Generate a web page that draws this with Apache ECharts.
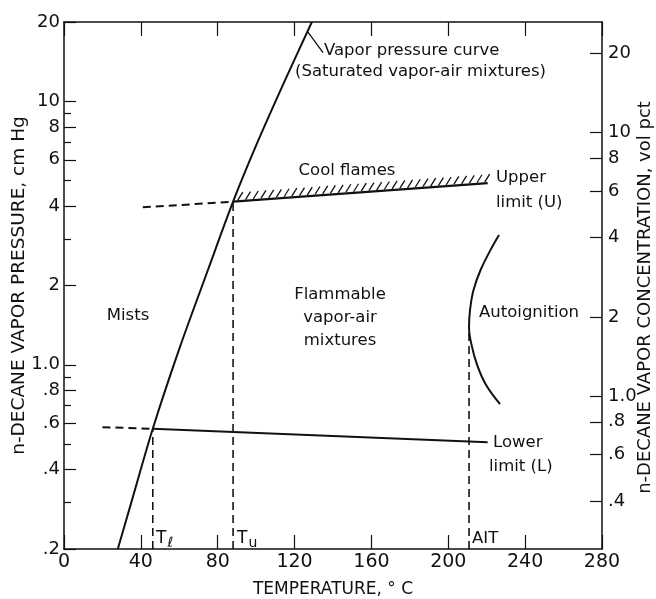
<!DOCTYPE html>
<html>
<head>
<meta charset="utf-8">
<script src="https://cdn.jsdelivr.net/npm/echarts@6/dist/echarts.min.js"></script>
<style>
    html, body { margin: 0; padding: 0; background: #fff; }
    #chart { width: 656px; height: 599px; }
</style>
</head>
<body>
<div id="chart"></div>
<script>
    // temperature (°C) against n-decane vapor pressure (cm Hg)
    var vaporCurve = [[28, 0.2], [35, 0.3], [46.2, 0.572], [60, 1.15], [75, 2.3], [88, 4.16], [100, 6.8], [115, 12], [129, 20]];
    var upperDashed = [[41, 3.96], [88, 4.16]];
    var upperSolid = [[88, 4.16], [220.5, 4.89]];
    var lowerDashed = [[20, 0.58], [46.2, 0.572]];
    var lowerSolid = [[46.2, 0.572], [220.5, 0.508]];
    var tlLine = [[46.2, 0.2], [46.2, 0.572]];
    var tuLine = [[88, 0.2], [88, 4.16]];
    var aitLine = [[210.8, 0.2], [210.8, 1.38]];
    var autoignition = [[226.4, 3.11], [222.0, 2.73], [216.8, 2.29], [213.1, 1.92], [211.3, 1.61], [210.8, 1.39],
        [212.1, 1.19], [215.0, 1.0], [219.6, 0.84], [226.9, 0.71]];
    var pointerLine = [[127, 18.3], [134.8, 15.3]];

    var xMin = 0, xMax = 280, xStep = 40;
    var pMin = 0.2, pMax = 20, atmCmHg = 76;
    var leftTicks = [0.2, 0.4, 0.6, 0.8, 1, 2, 4, 6, 8, 10, 20];
    var leftLabels = ['.2', '.4', '.6', '.8', '1.0', '2', '4', '6', '8', '10', '20'];
    var leftMinor = [0.3, 0.5, 0.7, 0.9, 3, 5, 7, 9];
    var rightTicks = [0.4, 0.6, 0.8, 1, 2, 4, 6, 8, 10, 20];
    var rightLabels = ['.4', '.6', '.8', '1.0', '2', '4', '6', '8', '10', '20'];

    var FONT = 'DejaVu Sans';
    var INK = '#111';

    // the y axes are value axes on log10 of the pressure / concentration
    var lg = Math.log10;
    function toLog(pts) {
        return pts.map(function (p) { return [p[0], lg(p[1])]; });
    }
    function lookup(ticks, labels) {
        return function (v) {
            for (var i = 0; i < ticks.length; i++) {
                if (Math.abs(v - lg(ticks[i])) < 1e-6) return labels[i];
            }
            return '';
        };
    }

    function line(data, dashed, width) {
        return {
            type: 'line',
            data: toLog(data),
            showSymbol: false,
            silent: true,
            lineStyle: { color: INK, width: width || 2, type: dashed ? [8, 5] : 'solid' }
        };
    }

    var chart = echarts.init(document.getElementById('chart'));

    var texts = [
        { x: 324, y: 51, t: 'Vapor pressure curve' },
        { x: 295, y: 72, t: '(Saturated vapor-air mixtures)' },
        { x: 347, y: 171, t: 'Cool flames', a: 'center' },
        { x: 496, y: 178, t: 'Upper' },
        { x: 496, y: 203, t: 'limit (U)' },
        { x: 128, y: 316, t: 'Mists', a: 'center' },
        { x: 340, y: 295, t: 'Flammable', a: 'center' },
        { x: 340, y: 318, t: 'vapor-air', a: 'center' },
        { x: 340, y: 341, t: 'mixtures', a: 'center' },
        { x: 479, y: 313, t: 'Autoignition' },
        { x: 493, y: 443, t: 'Lower' },
        { x: 489, y: 467, t: 'limit (L)' },
        { x: 472, y: 539, t: 'AIT' },
        { x: 156, y: 539, t: '{a|T}{b|ℓ}' },
        { x: 237, y: 539, t: '{a|T}{b|u}' }
    ];

    var axisLine = { show: true, onZero: false, lineStyle: { color: INK, width: 1.5 } };
    var tickStyle = { color: INK, width: 1.2 };

    var option = {
        backgroundColor: '#fff',
        animation: false,
        textStyle: { fontFamily: FONT, color: INK },
        grid: { left: 64, right: 54, top: 22, bottom: 50, outerBoundsMode: 'none', containLabel: false },
        xAxis: [{
            type: 'value', min: xMin, max: xMax, interval: xStep, position: 'bottom',
            name: 'TEMPERATURE, ° C', nameLocation: 'middle', nameGap: 32, nameMoveOverlap: false,
            nameTextStyle: { fontSize: 17, color: INK, fontFamily: FONT },
            axisLine: axisLine,
            axisTick: { inside: true, length: 14, lineStyle: tickStyle },
            axisLabel: { fontSize: 19, color: INK, margin: 4 },
            splitLine: { show: false }
        }, {
            type: 'value', position: 'top', min: xMin, max: xMax, interval: xStep,
            axisLine: axisLine,
            axisTick: { inside: true, length: 14, lineStyle: tickStyle },
            axisLabel: { show: false },
            splitLine: { show: false }
        }],
        yAxis: [{
            type: 'value', min: lg(pMin), max: lg(pMax), position: 'left',
            name: 'n-DECANE VAPOR PRESSURE, cm Hg', nameLocation: 'middle', nameGap: 35, nameRotate: 90,
            nameMoveOverlap: false,
            nameTextStyle: { fontSize: 18.5, color: INK, fontFamily: FONT },
            axisLine: axisLine,
            axisTick: { inside: true, length: 12, customValues: leftTicks.map(lg), lineStyle: tickStyle },
            axisLabel: { fontSize: 18, color: INK, margin: 4, customValues: leftTicks.map(lg), formatter: lookup(leftTicks, leftLabels) },
            splitLine: { show: false }
        }, {
            type: 'value', min: lg(pMin * 100 / atmCmHg), max: lg(pMax * 100 / atmCmHg), position: 'right',
            name: 'n-DECANE VAPOR CONCENTRATION, vol pct', nameLocation: 'middle', nameGap: 34, nameRotate: 90,
            nameMoveOverlap: false,
            nameTextStyle: { fontSize: 18, color: INK, fontFamily: FONT, padding: [0, 24, 0, 0] },
            axisLine: axisLine,
            axisTick: { inside: true, length: 12, customValues: rightTicks.map(lg), lineStyle: tickStyle },
            axisLabel: { fontSize: 18, color: INK, margin: 6, customValues: rightTicks.map(lg), formatter: lookup(rightTicks, rightLabels) },
            splitLine: { show: false }
        }, {
            type: 'value', min: lg(pMin), max: lg(pMax), position: 'left',
            axisLine: { show: false, onZero: false },
            axisTick: { inside: true, length: 7, customValues: leftMinor.map(lg), lineStyle: tickStyle },
            axisLabel: { show: false },
            splitLine: { show: false }
        }],
        series: [
            Object.assign(line(vaporCurve, false, 2), { smooth: 0.3 }),
            line(upperDashed, true, 2),
            line(upperSolid, false, 2.2),
            line(lowerDashed, true, 2),
            line(lowerSolid, false, 2),
            line(tlLine, true, 1.6),
            line(tuLine, true, 1.6),
            line(aitLine, true, 1.6),
            Object.assign(line(autoignition, false, 2), { smooth: 0.4 }),
            line(pointerLine, false, 1.3),
            {
                // hatching above the upper limit (cool-flame side)
                type: 'custom',
                silent: true,
                data: [toLog(upperSolid)[0].concat(toLog(upperSolid)[1])],
                renderItem: function (params, api) {
                    var a = api.coord([api.value(0), api.value(1)]);
                    var b = api.coord([api.value(2), api.value(3)]);
                    var dx = b[0] - a[0], dy = b[1] - a[1];
                    var len = Math.sqrt(dx * dx + dy * dy);
                    var n = Math.floor(len / 7.7);
                    var kids = [];
                    for (var i = 1; i <= n; i++) {
                        var x = a[0] + dx * i / n - 3, y = a[1] + dy * i / n - 1;
                        kids.push({
                            type: 'line',
                            shape: { x1: x, y1: y, x2: x + 5, y2: y - 8 },
                            style: { stroke: INK, lineWidth: 1.3 }
                        });
                    }
                    return { type: 'group', children: kids };
                }
            }
        ],
        graphic: texts.map(function (d) {
            return {
                type: 'text',
                silent: true,
                style: {
                    x: d.x, y: d.y, text: d.t,
                    textAlign: d.a || 'left', textVerticalAlign: 'middle',
                    font: '16.5px "' + FONT + '"', fill: INK,
                    rich: {
                        a: { fontSize: 17, fontFamily: FONT, fill: INK },
                        b: { fontSize: 14, fontFamily: FONT, fill: INK, padding: [8, 0, 0, 1] }
                    }
                }
            };
        })
    };

    chart.setOption(option);
</script>
</body>
</html>
